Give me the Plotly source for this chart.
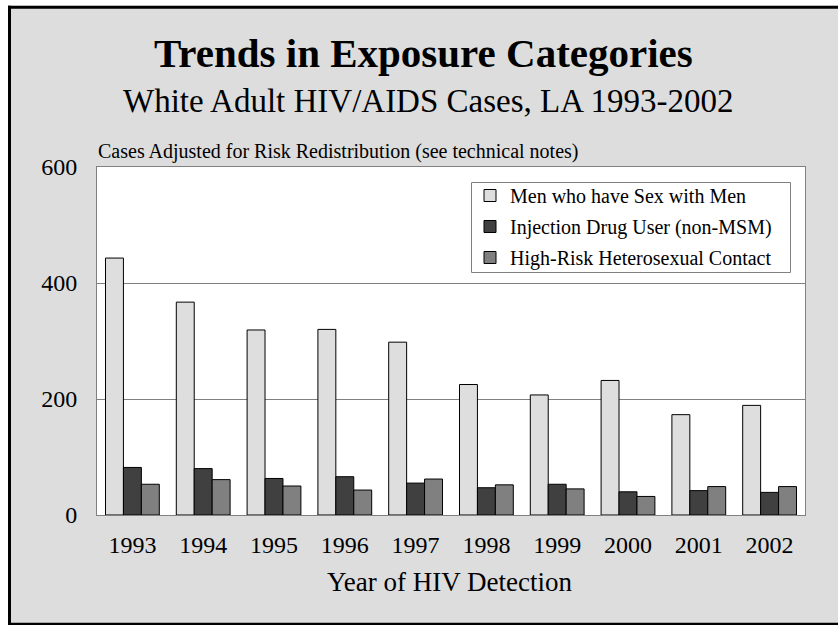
import plotly.graph_objects as go

# Year of HIV detection
years = ["1993", "1994", "1995", "1996", "1997", "1998", "1999", "2000", "2001", "2002"]

# Cases adjusted for risk redistribution, by exposure category
msm = [443, 367, 319, 320, 298, 225, 207, 232, 173, 189]
idu = [82, 80, 63, 66, 55, 47, 53, 40, 42, 39]
het = [53, 61, 50, 43, 62, 52, 45, 32, 49, 49]

series_names = [
    "Men who have Sex with Men",
    "Injection Drug User (non-MSM)",
    "High-Risk Heterosexual Contact",
]
series_colors = ["#dedede", "#404040", "#808080"]

y_ticks = [0, 200, 400, 600]

W, H = 838, 625
ML, MR, MT, MB = 97, 33, 167, 110
PW = W - ML - MR
PH = H - MT - MB
FONT = "Liberation Serif, Times New Roman, serif"
BG = "#dddddd"


def px_x(px):
    return (px - ML) / PW


def px_y(py):
    return (H - MB - py) / PH


fig = go.Figure()
for i, (name, vals, col) in enumerate(zip(series_names, [msm, idu, het], series_colors)):
    fig.add_trace(go.Bar(
        x=years, y=vals, name=name, legendgroup=f"g{i}",
        marker=dict(color=col, line=dict(color="#000000", width=1)),
    ))

shapes = [
    # white margin and black rule framing the slide
    dict(type="rect", xref="paper", yref="paper",
         x0=px_x(-5), x1=px_x(8), y0=px_y(-5), y1=px_y(635),
         fillcolor="white", line=dict(width=0)),
    dict(type="rect", xref="paper", yref="paper",
         x0=px_x(-5), x1=px_x(850), y0=px_y(-5), y1=px_y(5.7),
         fillcolor="white", line=dict(width=0)),
    dict(type="line", xref="paper", yref="paper",
         x0=px_x(9.5), x1=px_x(9.5), y0=px_y(5.7), y1=px_y(635),
         line=dict(color="black", width=3)),
    dict(type="line", xref="paper", yref="paper",
         x0=px_x(8), x1=px_x(850), y0=px_y(7.2), y1=px_y(7.2),
         line=dict(color="black", width=3)),
    dict(type="line", xref="paper", yref="paper",
         x0=px_x(8), x1=px_x(850), y0=px_y(624.3), y1=px_y(624.3),
         line=dict(color="black", width=3)),
    # legend box
    dict(type="rect", xref="paper", yref="paper", layer="above",
         x0=px_x(471.5), x1=px_x(790.5), y0=px_y(272.5), y1=px_y(182.5),
         fillcolor="white", line=dict(color="#808080", width=1)),
]

annotations = [
    dict(text="<b>Trends in Exposure Categories</b>", x=px_x(423), y=px_y(53),
         xref="paper", yref="paper", xanchor="center", yanchor="middle",
         showarrow=False, font=dict(family=FONT, size=41, color="black")),
    dict(text="White Adult HIV/AIDS Cases, LA 1993-2002", x=px_x(428), y=px_y(101),
         xref="paper", yref="paper", xanchor="center", yanchor="middle",
         showarrow=False, font=dict(family=FONT, size=33, color="black")),
    dict(text="Cases Adjusted for Risk Redistribution (see technical notes)",
         x=px_x(96), y=px_y(151), xref="paper", yref="paper",
         xanchor="left", yanchor="middle", showarrow=False,
         font=dict(family=FONT, size=20, color="black")),
    dict(text="Year of HIV Detection", x=px_x(449), y=px_y(582),
         xref="paper", yref="paper", xanchor="center", yanchor="middle",
         showarrow=False, font=dict(family=FONT, size=27, color="black")),
]

fig.update_layout(
    width=W, height=H,
    margin=dict(l=ML, r=MR, t=MT, b=MB),
    paper_bgcolor=BG, plot_bgcolor="white",
    barmode="group", bargap=0.24, bargroupgap=0,
    font=dict(family=FONT, color="black"),
    shapes=shapes, annotations=annotations,
    legend=dict(
        x=px_x(470), y=px_y(176), xanchor="left", yanchor="top",
        bgcolor="rgba(0,0,0,0)", borderwidth=0,
        font=dict(family=FONT, size=20, color="black"),
        tracegroupgap=2,
    ),
    showlegend=True,
)

fig.update_xaxes(
    showline=True, linecolor="#808080", linewidth=1, mirror=True,
    showgrid=False, ticks="", ticklabelstandoff=8,
    tickfont=dict(family=FONT, size=24, color="black"),
)
fig.update_yaxes(
    range=[0, 600], tickvals=y_ticks, ticktext=[str(v) for v in y_ticks],
    showline=True, linecolor="#808080", linewidth=1, mirror=True,
    showgrid=True, gridcolor="#808080", gridwidth=1, zeroline=False,
    ticks="", ticklabelstandoff=14,
    tickfont=dict(family=FONT, size=24, color="black"),
)

fig.write_html("out.html")
